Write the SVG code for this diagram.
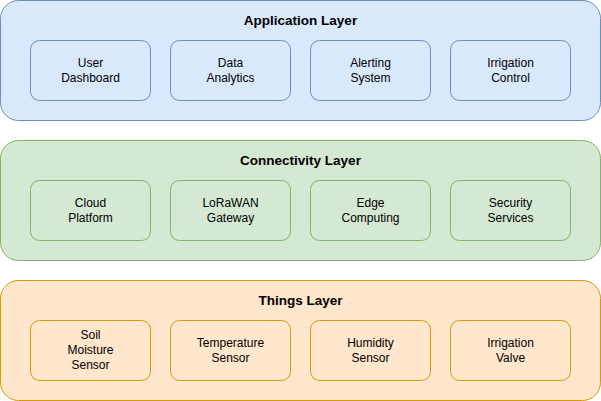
<svg xmlns="http://www.w3.org/2000/svg" width="601" height="401" viewBox="0 0 601 401">
<style>
.t{font-family:"Liberation Sans",Arial,Helvetica,sans-serif;font-size:12px;fill:#000;text-anchor:middle}
.h{font-weight:bold;font-size:13.5px}
.app{fill:#dae8fc;stroke:#6c8ebf}
.con{fill:#d5e8d4;stroke:#82b366}
.thg{fill:#ffe6cc;stroke:#d79b00}
</style>
<g id="application-layer">
<rect class="app" x="0.5" y="0.5" width="600" height="120" rx="18"/>
<text class="t h" x="300.5" y="25">Application Layer</text>
</g>
<g id="user-dashboard"><rect class="app" x="30.5" y="40.5" width="120" height="60" rx="9"/><text class="t" x="90.5" y="67">User</text><text class="t" x="90.5" y="82">Dashboard</text></g>
<g id="data-analytics"><rect class="app" x="170.5" y="40.5" width="120" height="60" rx="9"/><text class="t" x="230.5" y="67">Data</text><text class="t" x="230.5" y="82">Analytics</text></g>
<g id="alerting-system"><rect class="app" x="310.5" y="40.5" width="120" height="60" rx="9"/><text class="t" x="370.5" y="67">Alerting</text><text class="t" x="370.5" y="82">System</text></g>
<g id="irrigation-control"><rect class="app" x="450.5" y="40.5" width="120" height="60" rx="9"/><text class="t" x="510.5" y="67">Irrigation</text><text class="t" x="510.5" y="82">Control</text></g>

<g id="connectivity-layer">
<rect class="con" x="0.5" y="140.5" width="600" height="120" rx="18"/>
<text class="t h" x="300.5" y="165">Connectivity Layer</text>
</g>
<g id="cloud-platform"><rect class="con" x="30.5" y="180.5" width="120" height="60" rx="9"/><text class="t" x="90.5" y="207">Cloud</text><text class="t" x="90.5" y="222">Platform</text></g>
<g id="lorawan-gateway"><rect class="con" x="170.5" y="180.5" width="120" height="60" rx="9"/><text class="t" x="230.5" y="207">LoRaWAN</text><text class="t" x="230.5" y="222">Gateway</text></g>
<g id="edge-computing"><rect class="con" x="310.5" y="180.5" width="120" height="60" rx="9"/><text class="t" x="370.5" y="207">Edge</text><text class="t" x="370.5" y="222">Computing</text></g>
<g id="security-services"><rect class="con" x="450.5" y="180.5" width="120" height="60" rx="9"/><text class="t" x="510.5" y="207">Security</text><text class="t" x="510.5" y="222">Services</text></g>

<g id="things-layer">
<rect class="thg" x="0.5" y="280.5" width="600" height="120" rx="18"/>
<text class="t h" x="300.5" y="305">Things Layer</text>
</g>
<g id="soil-moisture-sensor"><rect class="thg" x="30.5" y="320.5" width="120" height="60" rx="9"/><text class="t" x="90.5" y="339">Soil</text><text class="t" x="90.5" y="354">Moisture</text><text class="t" x="90.5" y="369">Sensor</text></g>
<g id="temperature-sensor"><rect class="thg" x="170.5" y="320.5" width="120" height="60" rx="9"/><text class="t" x="230.5" y="347">Temperature</text><text class="t" x="230.5" y="362">Sensor</text></g>
<g id="humidity-sensor"><rect class="thg" x="310.5" y="320.5" width="120" height="60" rx="9"/><text class="t" x="370.5" y="347">Humidity</text><text class="t" x="370.5" y="362">Sensor</text></g>
<g id="irrigation-valve"><rect class="thg" x="450.5" y="320.5" width="120" height="60" rx="9"/><text class="t" x="510.5" y="347">Irrigation</text><text class="t" x="510.5" y="362">Valve</text></g>
<g id="connectors"/>
</svg>
